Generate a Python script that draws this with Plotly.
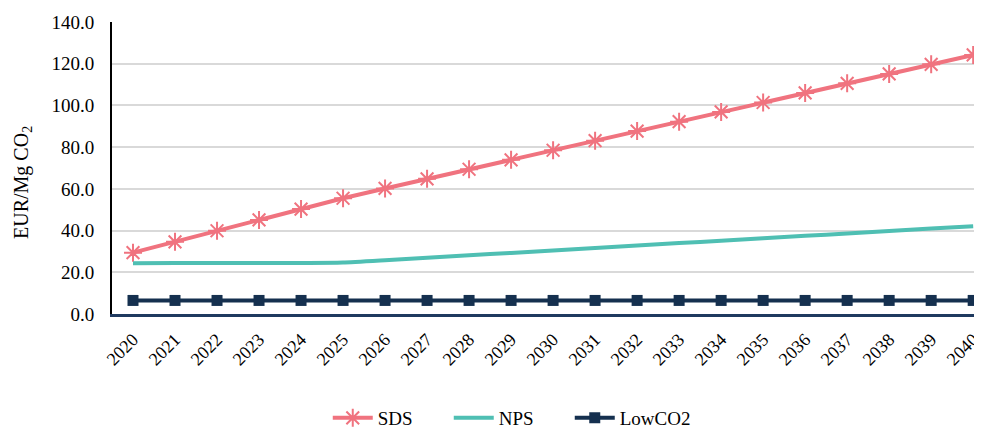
import plotly.graph_objects as go

years = [str(y) for y in range(2020, 2041)]
sds = [29.4, 34.6, 39.9, 45.1, 50.3, 55.5, 60.2, 64.8, 69.4, 73.9, 78.5,
       83.1, 87.7, 92.2, 96.9, 101.4, 106.0, 110.6, 115.1, 119.7, 124.2]
nps = [24.3, 24.4, 24.4, 24.5, 24.5, 24.7, 25.8, 27.0, 28.2, 29.3, 30.5,
       31.6, 32.8, 34.0, 35.1, 36.3, 37.5, 38.6, 39.8, 41.0, 42.1]
lowco2 = [6.5] * 21

y_ticks = [0, 20, 40, 60, 80, 100, 120, 140]
y_tick_labels = [f"{v:.1f}" for v in y_ticks]
y_title = "EUR/Mg CO<sub>2</sub>"

FONT = "Liberation Serif"

fig = go.Figure()
fig.add_trace(go.Scatter(
    x=years, y=sds, name="SDS", mode="lines+markers",
    line=dict(color="#F0737F", width=4),
    marker=dict(symbol="asterisk-open", size=15, color="#F0737F",
                line=dict(color="#F0737F", width=2)),
))
fig.add_trace(go.Scatter(
    x=years, y=nps, name="NPS", mode="lines",
    line=dict(color="#4FBFB3", width=4, shape="spline", smoothing=0.5),
))
fig.add_trace(go.Scatter(
    x=years, y=lowco2, name="LowCO2", mode="lines+markers",
    line=dict(color="#15304F", width=4),
    marker=dict(symbol="square", size=11, color="#15304F"),
))

fig.add_annotation(
    text=y_title, textangle=-90, showarrow=False,
    xref="paper", yref="paper", x=-0.103, y=0.45,
    xanchor="center", yanchor="middle",
    font=dict(family=FONT, size=20, color="#000000"),
)

fig.update_layout(
    width=974, height=420,
    margin=dict(l=104, r=0, t=14, b=114, autoexpand=False),
    paper_bgcolor="white", plot_bgcolor="white",
    font=dict(family=FONT, size=18, color="#000000"),
    showlegend=True,
    legend=dict(orientation="h", x=0.248, xanchor="left", y=-0.356,
                yanchor="middle", font=dict(family=FONT, size=19),
                itemwidth=40, entrywidth=66, entrywidthmode="pixels",
                bgcolor="rgba(0,0,0,0)"),
    xaxis=dict(
        type="category", range=[-0.5, 20.21], automargin=False,
        tickangle=-45, tickfont=dict(family=FONT, size=18),
        ticklabelstandoff=5,
        showgrid=False, showline=True, linecolor="#1F3A5F", linewidth=3,
        ticks="", zeroline=False,
    ),
    yaxis=dict(
        range=[0, 140], tickvals=y_ticks, ticktext=y_tick_labels,
        automargin=False,
        tickfont=dict(family=FONT, size=19), ticklabelstandoff=12,
        showgrid=True, gridcolor="#D9D9D9", gridwidth=2,
        showline=True, linecolor="#000000", linewidth=2,
        ticks="", zeroline=False,
    ),
)

fig.write_html("out.html")
